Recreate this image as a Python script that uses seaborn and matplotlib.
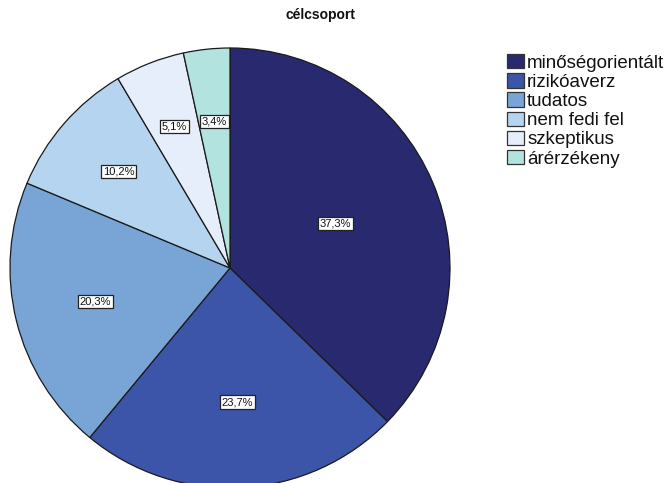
import matplotlib
matplotlib.use("Agg")
import matplotlib.pyplot as plt
import numpy as np
import seaborn as sns

# Segment names and their shares (percent)
categories = ["minőségorientált", "rizikóaverz", "tudatos",
              "nem fedi fel", "szkeptikus", "árérzékeny"]
shares = [37.3, 23.7, 20.3, 10.2, 5.1, 3.4]
pct_labels = ["37,3%", "23,7%", "20,3%", "10,2%", "5,1%", "3,4%"]
colors = ["#28296e", "#3d55a8", "#78a5d5", "#b5d4f0", "#e5eefa", "#b2e3df"]
title = "célcsoport"

# radial position of each percentage label (fraction of radius)
label_radius = [0.52, 0.61, 0.63, 0.67, 0.69, 0.67]

sns.set_theme(style="white")
plt.rcParams["font.family"] = ["Liberation Sans", "DejaVu Sans"]

palette = sns.color_palette(colors)

fig = plt.figure(figsize=(6.67, 4.83), dpi=100)
ax = fig.add_axes([10 / 667, -5 / 483, 440 / 667, 440 / 483])

wedges, _ = ax.pie(shares, colors=palette, startangle=90, counterclock=False,
                   radius=1.0,
                   wedgeprops=dict(edgecolor="#1a1a1a", linewidth=0.9))
ax.set_xlim(-1.0, 1.0)
ax.set_ylim(-1.0, 1.0)
ax.set_aspect("equal")
ax.axis("off")

for w, lab, r in zip(wedges, pct_labels, label_radius):
    ang = np.deg2rad((w.theta1 + w.theta2) / 2)
    ax.text(r * np.cos(ang), r * np.sin(ang), lab, ha="center", va="center",
            fontsize=8, color="#111111",
            bbox=dict(boxstyle="square,pad=0.15", facecolor="white",
                      edgecolor="#222222", linewidth=0.9))

fig.text(320 / 667, 1 - 15 / 483, title, ha="center", va="center",
         fontsize=10, fontweight="bold", color="#111111")

handles = [plt.Rectangle((0, 0), 1, 1, facecolor=c, edgecolor="#333333",
                         linewidth=0.9) for c in palette]
leg = fig.legend(handles, categories, loc="upper left",
                 bbox_to_anchor=(507 / 667, 1 - 54 / 483), frameon=False,
                 fontsize=13.5, handlelength=0.92, handleheight=0.8,
                 handletextpad=0.15, labelspacing=0.08, borderpad=0,
                 borderaxespad=0)
for t in leg.get_texts():
    t.set_color("#111111")

fig.savefig("out.png", dpi=100, facecolor="white")
